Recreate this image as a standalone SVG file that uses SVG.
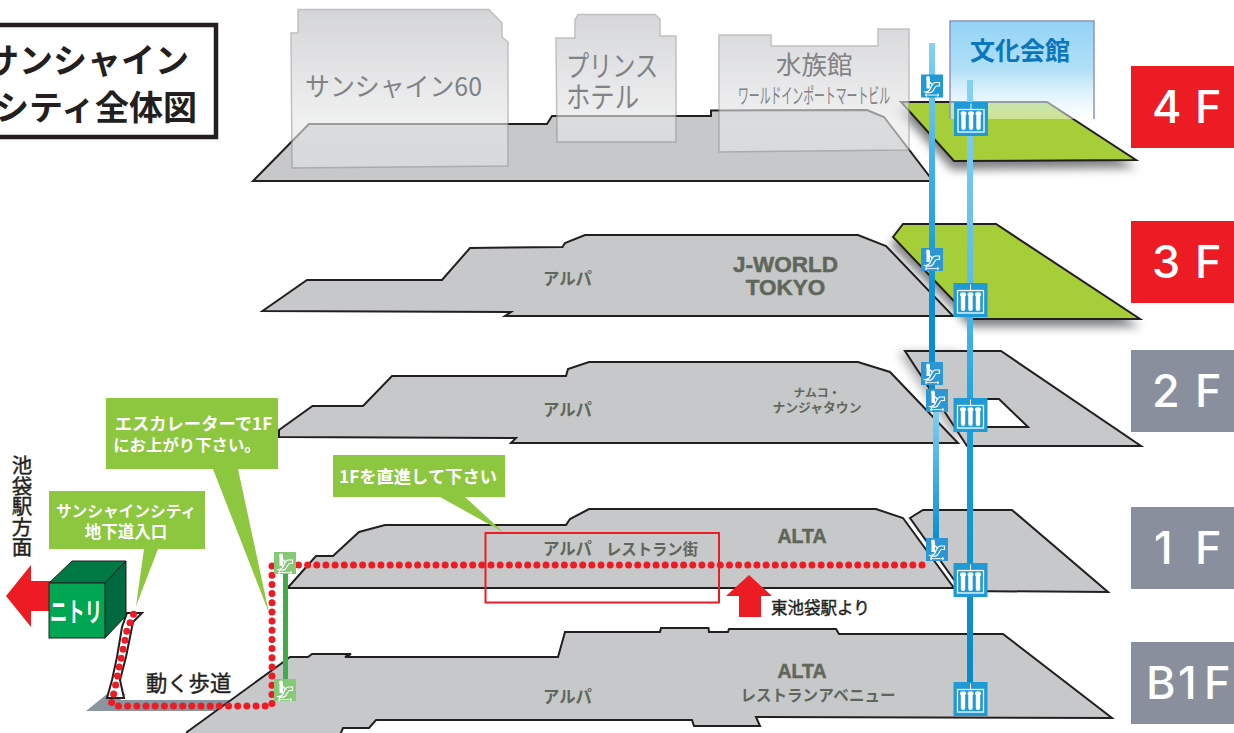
<svg xmlns="http://www.w3.org/2000/svg" xmlns:xlink="http://www.w3.org/1999/xlink" width="1234" height="733" viewBox="0 0 1234 733">
<style>
text{font-family:"Noto Sans CJK JP","Noto Sans",sans-serif}
.slab{fill:#c7c8ca;stroke:#231f20;stroke-width:2;stroke-linejoin:miter}
.green{fill:#a6ce39;stroke:#231f20;stroke-width:2}
.shadow{fill:#808285;filter:url(#blur)}
.bld{fill:url(#bldGrad);stroke:#9a9a9a;stroke-width:1.5;opacity:.62}
.btxt{fill:#808285;font-weight:400}
.lbl{fill:#60675a;font-weight:700}
.lat{font-family:"Liberation Sans",sans-serif;font-weight:700;fill:#60675a;stroke:#60675a;stroke-width:.5}
.call{fill:#8dc63f}
.ctxt{fill:#fff;font-weight:700;text-anchor:middle}
.red{fill:#ed1c24}
.grey{fill:#8a8f9e}
.fl{font-family:Inter,"Liberation Sans",sans-serif;font-weight:500;fill:#fff;font-size:45px}
.dots{fill:none;stroke:#ed1c24;stroke-width:7;stroke-linecap:round;stroke-linejoin:round;stroke-dasharray:0 9.17}
.blk{fill:#231f20;font-weight:400;stroke:#231f20;stroke-width:.4}
</style>
<defs>
<filter id="blur" x="-20%" y="-40%" width="140%" height="180%"><feGaussianBlur stdDeviation="5"/></filter>
<linearGradient id="bldGrad" gradientUnits="userSpaceOnUse" x1="0" y1="10" x2="0" y2="170">
<stop offset="0" stop-color="#bcbdc0"/><stop offset=".7" stop-color="#e8e9ea"/><stop offset="1" stop-color="#e2e3e4"/>
</linearGradient>
<linearGradient id="hallGrad" gradientUnits="userSpaceOnUse" x1="0" y1="20" x2="0" y2="119">
<stop offset="0" stop-color="#93d3f5"/><stop offset=".5" stop-color="#aedff7" stop-opacity=".97"/><stop offset=".83" stop-color="#ddf2fc" stop-opacity=".6"/><stop offset="1" stop-color="#fff" stop-opacity=".45"/>
</linearGradient>
<linearGradient id="esc1" gradientUnits="userSpaceOnUse" x1="0" y1="43" x2="0" y2="390">
<stop offset="0" stop-color="#85d2f3"/><stop offset=".4" stop-color="#3dade0"/><stop offset=".75" stop-color="#0a8ecf"/><stop offset="1" stop-color="#0a8ecf"/>
</linearGradient>
<linearGradient id="esc2" gradientUnits="userSpaceOnUse" x1="0" y1="405" x2="0" y2="540">
<stop offset="0" stop-color="#85d2f3"/><stop offset="1" stop-color="#0a8ecf"/>
</linearGradient>
<linearGradient id="elev" gradientUnits="userSpaceOnUse" x1="0" y1="80" x2="0" y2="690">
<stop offset="0" stop-color="#85d2f3"/><stop offset=".33" stop-color="#5dbce8"/><stop offset=".55" stop-color="#1aa0dc"/><stop offset="1" stop-color="#0a87c8"/>
</linearGradient>
<g id="escIcon">
<rect x="5.500" y="4" width="3.400" height="10" fill="#fff"/>
<circle cx="7" cy="3.500" r="1.900" fill="#fff"/>
<path d="M8.500 7.500L12 10.500" stroke="#fff" stroke-width="1.500" fill="none"/>
<path d="M4 17.500C8 17.500 9 15.500 10.500 11.500C11.500 9 12.500 8 14.500 8H18.500V11.500H15.500C13.500 11.500 13 17.800 9.500 18.200H5Z" fill="none" stroke="#fff" stroke-width="1.200"/>
<path d="M4 20.600H18M4 20.600l2-1.500M4 20.600l2 1.500M18 20.600l-2-1.500M18 20.600l-2 1.500" fill="none" stroke="#fff" stroke-width=".9"/>
</g>
<g id="elvIcon" fill="#fff">
<path d="M17 1.500V7.500" stroke="#fff" stroke-width="1"/>
<rect x="4" y="7.500" width="26" height="22.500" fill="none" stroke="#fff" stroke-width="1.300"/>
<rect x="7.300" y="12" width="4.400" height="16" rx="2"/><ellipse cx="9.500" cy="11.500" rx="3" ry="2.300"/>
<rect x="14.800" y="12" width="4.400" height="16" rx="2"/><ellipse cx="17" cy="11.500" rx="3" ry="2.300"/>
<rect x="22.300" y="12" width="4.400" height="16" rx="2"/><ellipse cx="24.500" cy="11.500" rx="3" ry="2.300"/>
</g>
</defs>
<rect width="1234" height="733" fill="#fff"/>

<g id="title">
<rect x="-10" y="25" width="226" height="112" fill="#fff" stroke="#231f20" stroke-width="4.500"/>
<text x="189" y="73" text-anchor="end" font-size="34" font-weight="700" fill="#231f20">サンシャイン</text>
<text x="197" y="120" text-anchor="end" font-size="34" font-weight="700" fill="#231f20">シティ全体図</text>
</g>

<g id="floor-4f">
<polygon class="shadow" points="898,110 1047,110 1136,168 952,170"/>
<polygon class="green" points="901,102 1047,102 1136,160 954,161"/>
<polygon class="slab" points="253,181 309,124 547,124 552,116 711,116 711,110.500 867,110 884,117 933,181"/>
<path class="bld" d="M291,33H298V9.500H489L502,23V37L508,42V166L292,168Z"/>
<path class="bld" d="M556,38H575V20L578,14.500H655L660,19V36H676V142H557Z"/>
<path class="bld" d="M719,35H771V46H878V29H909V150L719,152Z"/>
<text class="btxt" x="305" y="96" font-size="26" textLength="177" lengthAdjust="spacingAndGlyphs">サンシャイン60</text>
<text class="btxt" x="566" y="77" font-size="29" textLength="92" lengthAdjust="spacingAndGlyphs">プリンス</text>
<text class="btxt" x="566" y="108" font-size="29" textLength="73" lengthAdjust="spacingAndGlyphs">ホテル</text>
<text class="btxt" x="776" y="74" font-size="25.500">水族館</text>
<text class="btxt" x="738" y="103" font-size="21" textLength="152" lengthAdjust="spacingAndGlyphs">ワールドインポートマートビル</text>
</g>

<g id="hall-bunka">
<rect x="950" y="21" width="144" height="98" fill="url(#hallGrad)"/>
<path d="M950,119V21H1094V119" fill="none" stroke="#8f94c4" stroke-width="1.500"/>
<text x="1020" y="60" text-anchor="middle" font-size="25" font-weight="700" fill="#0a76bd">文化会館</text>
</g>

<g id="floor-3f">
<polygon class="shadow" points="890,245 902,232 996,232 1140,327 970,327"/>
<polygon class="green" points="893,237 903,224 996,224 1140,319 971,319"/>
<polygon class="slab" points="262.500,311 307,280 442,280 470,248 562.500,247 565,243 585,235 858,235 886,246 953,316 505,316 511,312"/>
<text class="lbl" x="543" y="285" font-size="16.500" textLength="49" lengthAdjust="spacingAndGlyphs">アルパ</text>
<text class="lat" x="785.500" y="272" text-anchor="middle" font-size="22.500">J-WORLD</text>
<text class="lat" x="785.500" y="295" text-anchor="middle" font-size="22.500">TOKYO</text>
</g>

<g id="floor-2f">
<path class="shadow" d="M898,352H960V440H955Z" opacity=".6"/>
<path class="slab" fill-rule="evenodd" d="M905,351H1001L1141,446H967ZM975,399H999L1028,427H986Z"/>
<polygon class="slab" points="279,430 312.500,406 363,406 392,376 566,376 568,369 589,362 858,362 890,372 958,443 511,443 516,438 279,437"/>
<text class="lbl" x="543" y="416" font-size="16.500" textLength="49" lengthAdjust="spacingAndGlyphs">アルパ</text>
<text class="lbl" x="817" y="397" text-anchor="middle" font-size="11.800">ナムコ・</text>
<text class="lbl" x="817" y="412" text-anchor="middle" font-size="12.800">ナンジャタウン</text>
</g>

<g id="floor-1f">
<polygon class="slab" points="910,518 923,510 1012,510 1108,592 962,591"/>
<polygon class="slab" points="287.500,588 316,556 333,556 359,532 385,525 566,525 570,519 589,509 876,509 903,518 954,588"/>
<text class="lbl" x="543" y="555" font-size="16.500" textLength="49" lengthAdjust="spacingAndGlyphs">アルパ</text>
<text class="lbl" x="606" y="555" font-size="16" textLength="92" lengthAdjust="spacingAndGlyphs">レストラン街</text>
<text class="lat" x="802" y="543" text-anchor="middle" font-size="19.500">ALTA</text>
</g>

<g id="floor-b1">
<polygon points="86,711 107,694 126,694 120,700 235,700 215,711" fill="#8a96a0"/>
<polygon class="slab" points="187,732 282,663 290,657 308,657 312,654 351,654 345,657 558,657 565,632 660,632 661,628 708.500,628 709,632 728,632 729,629 836,629 839,634 1003,634 1112,718 756,717 760,726 694,726 692,720 376,720 369,728 343,728 340,735 187,735"/>
<text class="lbl" x="543" y="703" font-size="16.500" textLength="49" lengthAdjust="spacingAndGlyphs">アルパ</text>
<text class="lat" x="802" y="678" text-anchor="middle" font-size="19.500">ALTA</text>
<text class="lbl" x="818" y="701" text-anchor="middle" font-size="16" textLength="155" lengthAdjust="spacingAndGlyphs">レストランアベニュー</text>
</g>

<g id="walkway">
<path d="M127,613H142L133,622L130,637L126,657L120,680L124,698H107L112,680L117,657L122,627Z" fill="#fff" stroke="#231f20" stroke-width="2"/>
<text class="blk" x="146" y="691" font-size="21.300">動く歩道</text>
</g>

<g id="nitori">
<polygon points="31,565 6,596 31,627 31,611 60,611 60,581 31,581" class="red"/>
<polygon points="49,583 72,561 126,561 105,583" fill="#007a45" stroke="#231f20"/>
<polygon points="105,583 126,561 126,616 105,638" fill="#006a3e" stroke="#231f20"/>
<rect x="49" y="583" width="56" height="55" fill="#00a651" stroke="#231f20"/>
<text x="50" y="622" font-size="27" font-weight="700" fill="#fff" textLength="52" lengthAdjust="spacingAndGlyphs">ニトリ</text>
<text x="22" y="455" class="blk" font-size="20.500" style="writing-mode:vertical-rl">池袋駅方面</text>
</g>

<g id="callout-entrance">
<path class="call" d="M49,491H205V549H158L136,606L144,549H49Z"/>
<text class="ctxt" x="126" y="517" font-size="15.700">サンシャインシティ</text>
<text class="ctxt" x="126" y="538" font-size="16.500">地下道入口</text>
</g>
<g id="callout-escalator">
<path class="call" d="M106,398H278V469H238L269,613L213,469H106Z"/>
<text class="ctxt" x="193.500" y="430" font-size="17.300">エスカレーターで1F</text>
<text class="ctxt" x="187" y="451" font-size="16.400">にお上がり下さい。</text>
</g>
<g id="callout-straight">
<path class="call" d="M333,455H505V497H465L503,532L440,497H333Z"/>
<text class="ctxt" x="418" y="483" font-size="17.300">1Fを直進して下さい</text>
</g>

<g id="restaurant-highlight">
<rect x="485.500" y="533" width="233.500" height="69.500" fill="none" stroke="#ed1c24" stroke-width="2"/>
</g>

<g id="east-ikebukuro">
<polygon class="red" points="749,575 772,596 761,596 761,617 739,617 739,596 726,596"/>
<text class="blk" x="771" y="614" font-size="16.500">東池袋駅より</text>
</g>

<g id="connectors">
<rect x="929" y="43" width="6" height="350" fill="url(#esc1)"/>
<rect x="933" y="400" width="6" height="145" fill="url(#esc2)"/>
<rect x="967" y="80" width="6" height="610" fill="url(#elev)"/>
<rect x="283" y="570" width="5" height="115" fill="#3fae49"/>
<path class="dots" d="M922,565H272V706H113L111,701L114,693L127,630L134,613"/>
</g>

<g id="esc-4f"><rect x="921" y="74.500" width="22" height="23" fill="#1f9ad6"/><use xlink:href="#escIcon" href="#escIcon" x="921" y="74.500"/></g>
<g id="esc-3f"><rect x="921" y="248" width="22" height="23" fill="#2c97d4"/><use xlink:href="#escIcon" href="#escIcon" x="921" y="248"/></g>
<g id="esc-2f-a"><rect x="921" y="362" width="22" height="23" fill="#2c97d4"/><use xlink:href="#escIcon" href="#escIcon" x="921" y="362"/></g>
<g id="esc-2f-b"><rect x="926" y="389" width="22" height="23" fill="#2c97d4"/><use xlink:href="#escIcon" href="#escIcon" x="926" y="389"/></g>
<g id="esc-1f"><rect x="926" y="538" width="22" height="23" fill="#2c97d4"/><use xlink:href="#escIcon" href="#escIcon" x="926" y="538"/></g>
<g id="esc-g-1f"><rect x="274" y="552" width="22" height="22" fill="#85c875"/><use xlink:href="#escIcon" href="#escIcon" x="274" y="552"/></g>
<g id="esc-g-b1"><rect x="274" y="679" width="22" height="22" fill="#85c875"/><use xlink:href="#escIcon" href="#escIcon" x="274" y="679"/></g>

<g id="elv-4f"><rect x="954" y="102" width="34" height="34" fill="#1f9ad6"/><use xlink:href="#elvIcon" href="#elvIcon" x="954" y="102"/></g>
<g id="elv-3f"><rect x="953.500" y="283" width="34" height="34" fill="#1f9ad6"/><use xlink:href="#elvIcon" href="#elvIcon" x="953.500" y="283"/></g>
<g id="elv-2f"><rect x="953.500" y="398" width="34" height="34" fill="#1f9ad6"/><use xlink:href="#elvIcon" href="#elvIcon" x="953.500" y="398"/></g>
<g id="elv-1f"><rect x="953.500" y="563" width="34" height="34" fill="#1f9ad6"/><use xlink:href="#elvIcon" href="#elvIcon" x="953.500" y="563"/></g>
<g id="elv-b1"><rect x="953.500" y="682" width="34" height="34" fill="#1f9ad6"/><use xlink:href="#elvIcon" href="#elvIcon" x="953.500" y="682"/></g>

<g id="label-4f"><rect class="red" x="1131" y="66" width="103" height="82"/><text class="fl" x="1152 1195" y="123">4F</text></g>
<g id="label-3f"><rect class="red" x="1131" y="221" width="103" height="82"/><text class="fl" x="1152 1195" y="278">3F</text></g>
<g id="label-2f"><rect class="grey" x="1131" y="350" width="103" height="82"/><text class="fl" x="1152 1195" y="407">2F</text></g>
<g id="label-1f"><rect class="grey" x="1131" y="507" width="103" height="82"/><text class="fl" x="1154 1195" y="564">1F</text></g>
<g id="label-b1f"><rect class="grey" x="1131" y="642" width="103" height="82"/><text class="fl" x="1146 1178 1204" y="699">B1F</text></g>
</svg>
